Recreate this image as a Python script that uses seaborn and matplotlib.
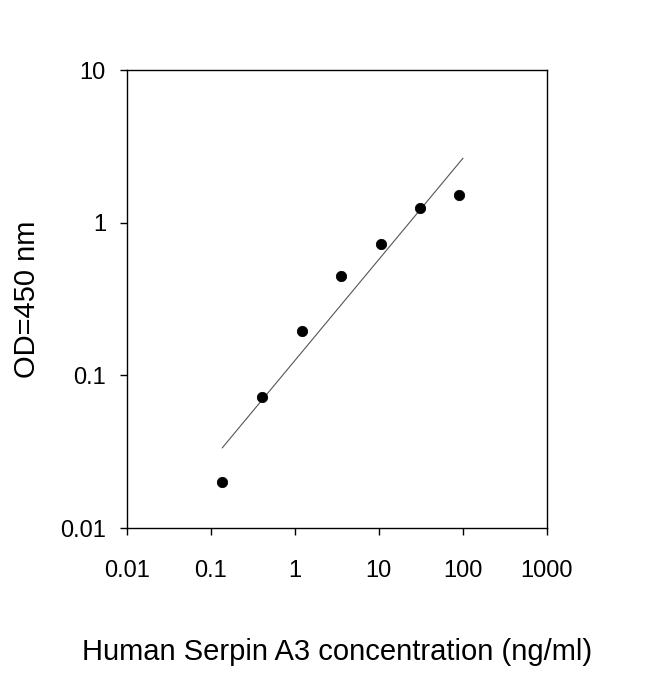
import numpy as np
import matplotlib
matplotlib.use("Agg")
import matplotlib.pyplot as plt
import seaborn as sns
import pandas as pd

conc = [0.137, 0.41, 1.23, 3.6, 10.6, 31, 90]
od = [0.020, 0.072, 0.194, 0.446, 0.72, 1.25, 1.52]
xticks = [0.01, 0.1, 1, 10, 100, 1000]
xticklabels = ["0.01", "0.1", "1", "10", "100", "1000"]
yticks = [0.01, 0.1, 1, 10]
yticklabels = ["0.01", "0.1", "1", "10"]

sns.set_style("ticks")
plt.rcParams['font.family'] = ['Liberation Sans', 'DejaVu Sans']

df = pd.DataFrame({"conc": conc, "od": od})
fig = plt.figure(figsize=(6.5, 6.74), dpi=100)
ax = fig.add_axes([0.195, 0.2166, 0.646, 0.6795])

lx, ly = np.log10(conc), np.log10(od)
b, a = np.polyfit(lx, ly, 1)
fx = np.array([lx[0], lx[-1] + 0.05])
ax.plot(10**fx, 10**(a + b*fx), color="#555555", lw=0.8)
sns.scatterplot(data=df, x="conc", y="od", ax=ax, color="black", s=55, edgecolor="black", zorder=3)

ax.set_xscale("log"); ax.set_yscale("log")
ax.set_xlim(0.01, 1000); ax.set_ylim(0.01, 10)
ax.set_xticks(xticks); ax.set_xticklabels(xticklabels)
ax.set_yticks(yticks); ax.set_yticklabels(yticklabels)
ax.minorticks_off()
ax.tick_params(labelsize=17, direction="out", length=5, width=1, color="black", labelcolor="black")
ax.tick_params(axis="x", pad=18)
ax.tick_params(axis="y", pad=10)
for s in ax.spines.values():
    s.set_color("black"); s.set_linewidth(1)
ax.set_xlabel("Human Serpin A3 concentration (ng/ml)", fontsize=21, labelpad=40, color="black")
ax.set_ylabel("OD=450 nm", fontsize=21, labelpad=14, color="black")
fig.savefig("out.png", dpi=100, facecolor="white")
